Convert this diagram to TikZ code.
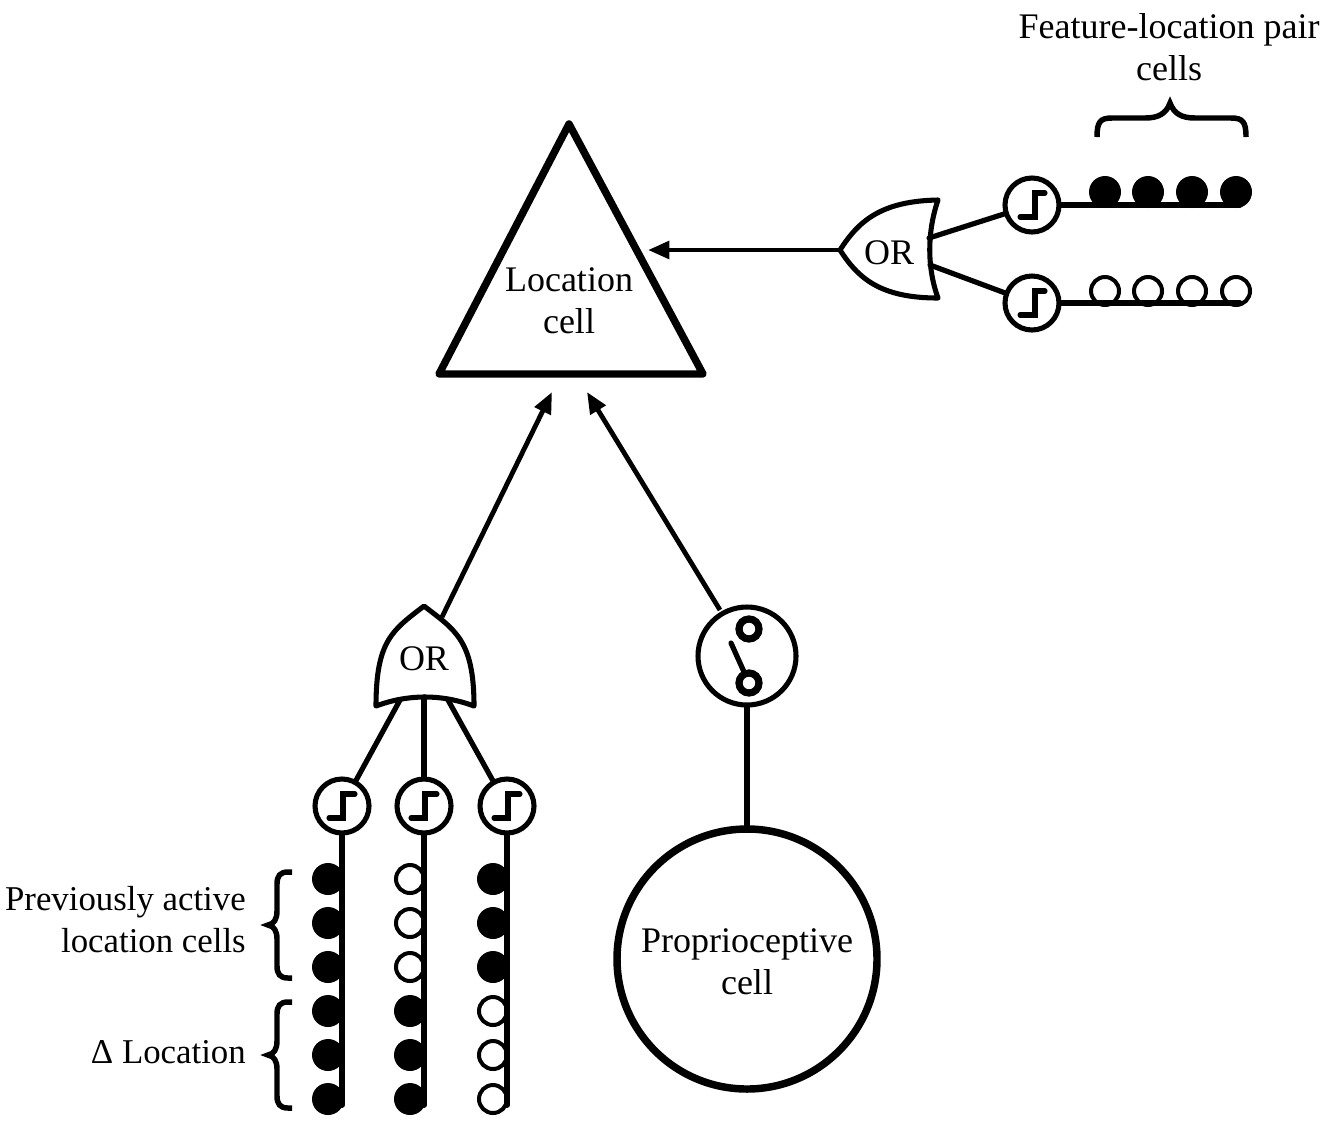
\documentclass[tikz,border=0pt]{standalone}
\usepackage{fontspec}
\setmainfont{Liberation Serif}
\usetikzlibrary{arrows.meta,calc}
\tikzset{
  x=0.75pt,y=-0.75pt,
  lbl/.style={font=\fontsize{27pt}{31.5pt}\selectfont,inner sep=0pt,align=center},
  lblr/.style={font=\fontsize{26.1pt}{31.5pt}\selectfont,inner sep=0pt,align=right,anchor=east},
  wire/.style={line width=3.9pt,line cap=round},
  arrowwire/.style={line width=3.6pt,-{Triangle[length=16pt,width=13pt]}},
  gate/.style={line width=3.8pt,line join=round,fill=white},
  thresh/.style={circle,draw,line width=3.8pt,fill=white,minimum size=40.5pt,inner sep=0pt},
  stepline/.style={line width=3.8pt,line cap=round,line join=miter},
  brace/.style={line width=4.1pt},
  bar/.style={line width=4.4pt,line cap=round},
  dotfull/.style={circle,fill=black,minimum size=24pt,inner sep=0pt},
  dotopen/.style={circle,draw,line width=3pt,fill=white,minimum size=21pt,inner sep=0pt},
}
\begin{document}
\begin{tikzpicture}
\useasboundingbox (0,0) rectangle (1326,1122);
% ----- location cell
\draw[line width=5.6pt,line join=round] (569,124) -- (703,374) -- (439,374) -- cycle;
\node[lbl] (loc) at (569,301) {Location\\cell};
\coordinate (locR) at (648,250);
\coordinate (locL) at (552,392);
\coordinate (locM) at (587,392);
% ----- right gate
\coordinate (orRtip) at (840,250);
\coordinate (orRa) at (929,238);
\coordinate (orRb) at (930,265);
\draw[gate] (orRtip) .. controls (858,222) and (880,201) .. (938,200)
  .. controls (927,232) and (927,268) .. (938,298)
  .. controls (880,298) and (858,278) .. cycle;
\node[lbl] (orRt) at (889,253) {OR};
\draw[arrowwire] (orRtip) -- (locR);
% ----- right thresholds
\node[thresh] (tR1) at (1032,205) {};
\node[thresh] (tR2) at (1032,303) {};
\draw[wire] (orRa) -- (tR1);
\draw[wire] (orRb) -- (tR2);
\foreach \n in {tR1,tR2}
  \draw[stepline] ([shift={(-12,12)}]\n.center) -- ([shift={(3,12)}]\n.center) -- ([shift={(3,-12)}]\n.center) -- ([shift={(13,-12)}]\n.center);
\foreach \x [count=\i] in {1105,1148,1192,1236} {
  \node[dotfull] (rf\i) at (\x,192) {};
  \node[dotopen] (ro\i) at (\x,291) {};
}
\coordinate (rfEnd) at (1240,205);
\coordinate (roEnd) at (1240,303);
\draw[wire] (tR1) -- (rfEnd);
\draw[wire] (tR2) -- (roEnd);
% top brace
\draw[brace] (1097,137) .. controls (1097,122) and (1100,118) .. (1112,118)
  -- (1145,118) .. controls (1158,118) and (1166,114) .. (1170,103)
  .. controls (1174,114) and (1182,118) .. (1195,118)
  -- (1231,118) .. controls (1243,118) and (1246,122) .. (1246,137);
\node[lbl] (fl) at (1169,47) {Feature-location pair\\cells};
% ----- left gate
\coordinate (orLtip) at (424,606);
\coordinate (orLa) at (400,700);
\coordinate (orLb) at (424,697);
\coordinate (orLc) at (448,700);
\coordinate (orLout) at (442,617);
\draw[arrowwire] (orLout) -- (locL);
\draw[gate] (orLtip) .. controls (455,630) and (474,640) .. (474,706)
  .. controls (442,694) and (408,694) .. (376,706)
  .. controls (376,640) and (393,630) .. cycle;
\node[lbl] (orLt) at (424,659) {OR};
\node[thresh] (t1) at (342,806) {};
\node[thresh] (t2) at (424,806) {};
\node[thresh] (t3) at (507,806) {};
\draw[wire] (orLa) -- (t1);
\draw[wire] (orLb) -- (t2);
\draw[wire] (orLc) -- (t3);
\foreach \n in {t1,t2,t3}
  \draw[stepline] ([shift={(-13,12)}]\n.center) -- ([shift={(1,12)}]\n.center) -- ([shift={(1,-12)}]\n.center) -- ([shift={(13,-12)}]\n.center);
% dots of the columns
\foreach \y [count=\i] in {879,923,967,1011,1055,1099} {
  \node[dotfull] (a\i) at (328,\y) {};
  \ifnum\i<4
    \node[dotopen] (b\i) at (410,\y) {};
    \node[dotfull] (c\i) at (493,\y) {};
  \else
    \node[dotfull] (b\i) at (410,\y) {};
    \node[dotopen] (c\i) at (493,\y) {};
  \fi
}
\coordinate (e1) at (342,1105);
\coordinate (e2) at (424,1105);
\coordinate (e3) at (507,1105);
\draw[bar] (t1) -- (e1);
\draw[bar] (t2) -- (e2);
\draw[bar] (t3) -- (e3);
% left braces
\foreach \yt/\ym/\yb in {872/925/978,1002/1055/1108}
  \draw[brace] (292,\yt) -- (288,\yt) .. controls (280,\yt) and (277,\yt+4) .. (277,\yt+12)
    -- (277,\ym-14) .. controls (277,\ym-6) and (274,\ym-1) .. (268,\ym)
    .. controls (274,\ym+1) and (277,\ym+6) .. (277,\ym+14)
    -- (277,\yb-12) .. controls (277,\yb-4) and (280,\yb) .. (288,\yb) -- (292,\yb);
\node[lblr] (prev) at (246,920) {Previously active\\location cells};
\node[lblr] (delta) at (246,1052) {Δ Location};
% ----- switch
\node[circle,draw,line width=3.8pt,fill=white,minimum size=73.5pt,inner sep=0pt] (sw) at (747,656) {};
\coordinate (swOut) at (720,610);
\draw[arrowwire] (swOut) -- (locM);
\node[circle,draw,line width=5.4pt,minimum size=15pt,inner sep=0pt] (swA) at (749,629) {};
\node[circle,draw,line width=5.4pt,minimum size=15pt,inner sep=0pt] (swB) at (749,683) {};
\coordinate (lever) at (731,643);
\draw[wire] (lever) -- (swB);
% ----- proprioceptive
\node[circle,draw,line width=5.6pt,minimum size=195pt,inner sep=0pt] (prop) at (747,959) {};
\draw[wire] (sw) -- (prop);
\node[lbl] (propt) at (747,962) {Proprioceptive\\cell};
\end{tikzpicture}
\end{document}
